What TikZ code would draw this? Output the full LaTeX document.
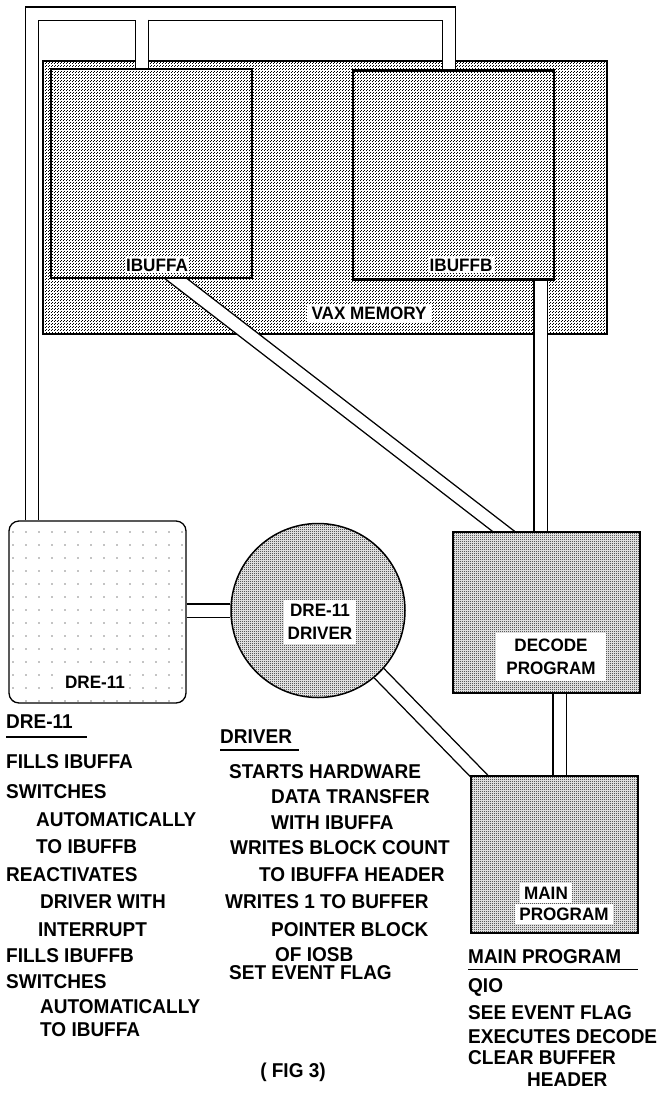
\documentclass[tikz,border=0pt]{standalone}
\usepackage{fontspec}
\newfontfamily\macfont{Liberation Sans}[FakeStretch=0.95]
\usetikzlibrary{positioning, patterns}

\pgfdeclarelayer{back}
\pgfsetlayers{back,main}

% fine dot screen for the memory
\pgfdeclarepatternformonly{memdots}{\pgfqpoint{0pt}{0pt}}{\pgfqpoint{3pt}{3pt}}{\pgfqpoint{3pt}{3pt}}{%
  \pgfpathrectangle{\pgfqpoint{0pt}{0pt}}{\pgfqpoint{1.1pt}{1.1pt}}%
  \pgfpathrectangle{\pgfqpoint{1.5pt}{1.5pt}}{\pgfqpoint{1.1pt}{1.1pt}}%
  \pgfusepath{fill}}
% dense screen for the programs
\pgfdeclarepatternformonly{mesh}{\pgfqpoint{0pt}{0pt}}{\pgfqpoint{2pt}{2pt}}{\pgfqpoint{2pt}{2pt}}{%
  \pgfpathrectangle{\pgfqpoint{0pt}{0pt}}{\pgfqpoint{1pt}{1pt}}%
  \pgfpathrectangle{\pgfqpoint{1pt}{1pt}}{\pgfqpoint{1pt}{1pt}}%
  \pgfusepath{fill}}

\begin{document}
\begin{tikzpicture}[x=1pt, y=-1pt,
    box/.style={draw, rectangle, inner sep=0pt, preaction={fill=white}},
    memory/.style={box, line width=1.4pt, pattern=memdots, minimum width=564pt, minimum height=273pt},
    buffer/.style={box, line width=2.6pt, pattern=memdots, minimum width=201pt, minimum height=209pt},
    unit/.style={box, line width=2pt, pattern=mesh},
    driver/.style={circle, draw, line width=1.5pt, preaction={fill=white}, pattern=mesh, minimum size=174pt, inner sep=0pt},
    device/.style={box, line width=1.3pt, rounded corners=10pt, minimum width=177pt, minimum height=182pt},
    pipe/.style={line width=1.4pt, double=white, double distance=12pt},
    tag/.style={fill=white, inner sep=3pt, font=\macfont\bfseries\fontsize{18}{23}\selectfont, align=center},
    note/.style={anchor=west, inner sep=0pt, font=\macfont\bfseries\fontsize{20}{22}\selectfont},
    uline/.style={line width=1.3pt}
]
    \useasboundingbox (0,0) rectangle (663,1096);

    % --- VAX MEMORY WITH THE TWO BUFFERS ---
    \begin{pgfonlayer}{back}
        \node[memory] (VAX) at (325,197.5) {};
    \end{pgfonlayer}
    \node[buffer] (IBUFFA) at (151.5,173.5) {};
    \node[buffer] (IBUFFB) at (453.5,175) {};
    \node[tag, inner sep=1.5pt] (labA) at (157,265) {IBUFFA};
    \node[tag, inner sep=1.5pt] (labB) at (461,265) {IBUFFB};
    \node[tag, inner xsep=5pt] (labVAX) at (369,313) {VAX MEMORY};

    % --- HARDWARE, DRIVER AND PROGRAMS ---
    \node[device] (DRE) at (97.5,612) {};
    \foreach \i in {0,...,13} {
        \foreach \j in {0,...,13} {
            \fill (13+13*\i,532+13*\j) circle (0.7pt);
        }
    }
    \node[tag, inner sep=4pt] (labDRE) at (95,682) {DRE-11};

    \node[driver] (DRV) at (318,610.5) {};
    \node[tag, inner sep=4pt] (labDRV) at (320,622) {DRE-11\\DRIVER};

    \node[unit, minimum width=187pt, minimum height=161pt] (DECODE) at (546.5,612.5) {};
    \node[tag, inner xsep=10pt, inner ysep=6pt] (labDEC) at (551,657) {DECODE\\PROGRAM};

    \node[unit, minimum width=167pt, minimum height=157pt] (MAIN) at (554.5,854.5) {};
    \node[tag, inner sep=4pt] (labMAIN) at (546,893) {MAIN};
    \node[tag, inner sep=4pt] (labPROG) at (564,914) {PROGRAM};

    % --- PIPES BETWEEN THE PARTS ---
    \coordinate (ptl) at (32,13.5);
    \coordinate (ptr) at (449,13.5);
    \coordinate (tee) at (142,19.5);
    \coordinate (dtop) at ([xshift=-6pt]DECODE.north);
    \coordinate (mtop) at ([xshift=5pt]MAIN.north);
    \begin{pgfonlayer}{back}
        \draw[pipe] (ptl |- DRE.north) -- (ptl) -- (ptr) -- (ptr |- IBUFFB.north);
        \draw[pipe] (tee) -- (tee |- IBUFFA.north);
        \draw[pipe] ([xshift=15pt,yshift=8pt]IBUFFA.south) -- ([xshift=-33pt,yshift=-8pt]DECODE.north);
        \draw[pipe] (dtop |- IBUFFB.south) -- (dtop);
        \draw[pipe] (mtop |- DECODE.south) -- (mtop);
        \draw[pipe] (DRE.east |- DRV) -- (DRV);
        \draw[pipe] (DRV) -- ([xshift=14pt,yshift=-6pt]MAIN.north west);
    \end{pgfonlayer}

    % --- DRE-11 NOTES ---
    \node[note] (dreHead) at (6,722) {DRE-11};
    \draw[uline] ([yshift=-8pt]dreHead.south west) -- ++(81,0);
    \foreach \x/\y/\t [count=\k] in {6/762/FILLS IBUFFA,6/792/SWITCHES,36/820/AUTOMATICALLY,36/847/TO IBUFFB,
        6/875/REACTIVATES,40/902/DRIVER WITH,38/930/INTERRUPT,6/956/FILLS IBUFFB,6/982/SWITCHES,
        40/1007/AUTOMATICALLY,40/1030/TO IBUFFA} {
        \node[note] (dreNote\k) at (\x,\y) {\t};
    }

    % --- DRIVER NOTES ---
    \node[note] (drvHead) at (220,737) {DRIVER};
    \draw[uline] ([yshift=-6pt]drvHead.south west) -- ++(79,0);
    \foreach \x/\y/\t [count=\k] in {229/772/STARTS HARDWARE,271/797/DATA TRANSFER,271/823/WITH IBUFFA,
        230/848/WRITES BLOCK COUNT,259/875/TO IBUFFA HEADER,225/902/WRITES 1 TO BUFFER,
        271/930/POINTER BLOCK,275/955/OF IOSB,229/973/SET EVENT FLAG} {
        \node[note] (drvNote\k) at (\x,\y) {\t};
    }

    % --- MAIN PROGRAM NOTES ---
    \node[note] (mainHead) at (468,957) {MAIN PROGRAM};
    \draw[uline] ([yshift=-5pt]mainHead.south west) -- ++(170,0);
    \foreach \x/\y/\t [count=\k] in {468/987/QIO,468/1013/SEE EVENT FLAG,468/1037/EXECUTES DECODE,
        468/1058/CLEAR BUFFER,527/1080/HEADER} {
        \node[note] (mainNote\k) at (\x,\y) {\t};
    }

    \node[note, anchor=center] (fig) at (293,1072) {( FIG 3)};

\end{tikzpicture}
\end{document}
